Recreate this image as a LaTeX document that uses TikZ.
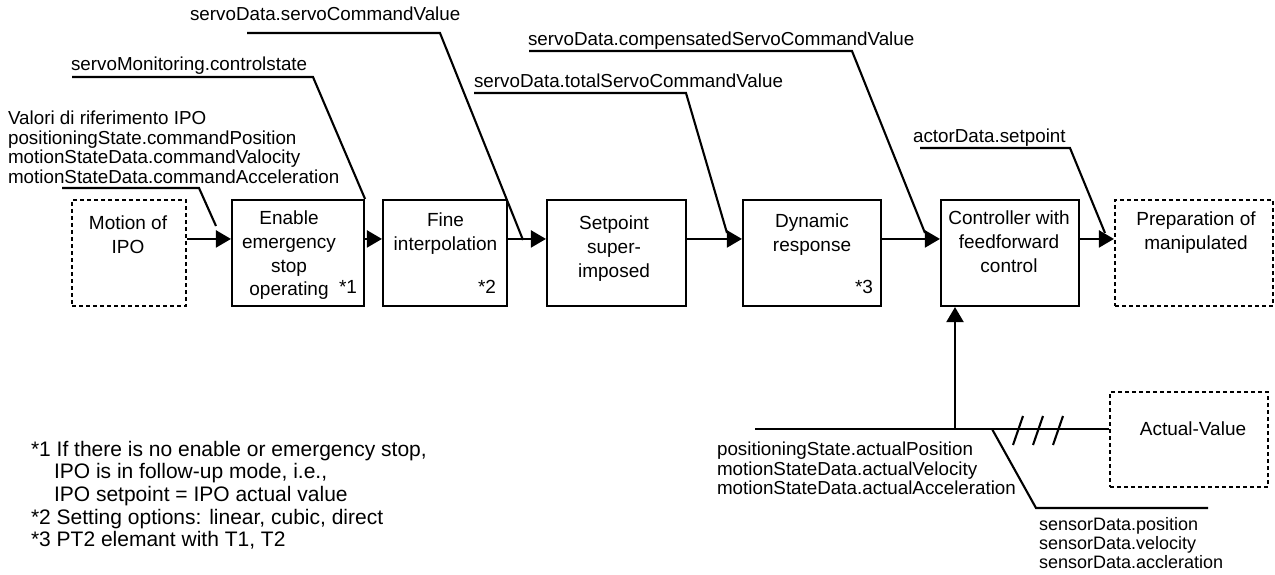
\documentclass[tikz,border=0pt]{standalone}
\usepackage{fontspec}
\setmainfont{Liberation Sans}
\usetikzlibrary{arrows.meta,calc}

\begin{document}
\begin{tikzpicture}[x=1pt,y=-1pt,
  line width=2.1pt,
  blk/.style={draw, rectangle, minimum height=106pt, inner sep=0pt},
  dblk/.style={blk, dash pattern=on 4pt off 3pt},
  btxt/.style={font=\fontsize{19}{23.7}\selectfont, align=center, anchor=north, inner sep=0pt},
  ltxt/.style={font=\fontsize{18.8}{19.6}\selectfont, align=left, anchor=north west, inner sep=0pt},
  note/.style={font=\fontsize{21}{22.6}\selectfont, align=left, anchor=north west, inner sep=0pt},
  fnm/.style={font=\fontsize{19}{23}\selectfont, anchor=base east, inner sep=0pt},
  arr/.style={-{Triangle[length=15pt,width=17pt]}}
]
\useasboundingbox (0,0) rectangle (1275,575);

% signal chain blocks
\node[dblk, minimum width=114pt] (ipo)  at (129,253)   {};
\node[blk,  minimum width=132pt] (ena)  at (298,253)   {};
\node[blk,  minimum width=124pt] (fine) at (445,253)   {};
\node[blk,  minimum width=139pt] (sup)  at (616.5,253) {};
\node[blk,  minimum width=138pt] (dyn)  at (812,253)   {};
\node[blk,  minimum width=138pt] (ctl)  at (1010,253)  {};
\node[dblk, minimum width=158pt] (prep) at (1194,253)  {};
\node[dblk, minimum width=158pt, minimum height=95pt] (act) at (1189,439.5) {};

% block texts
\node[btxt] (ipo-t)  at (128,215)   {Motion of\\IPO};
\node[btxt] (ena-t)  at (289,210)   {Enable\\emergency\\stop\\operating};
\node[btxt] (fine-t) at (445.5,212) {Fine\\interpolation};
\node[btxt] (sup-t)  at (614,215)   {Setpoint\\super-\\imposed};
\node[btxt] (dyn-t)  at (812,213)   {Dynamic\\response};
\node[btxt] (ctl-t)  at (1009,210)  {Controller with\\feedforward\\control};
\node[btxt] (prep-t) at (1196,211)  {Preparation of\\manipulated};
\node[btxt] (act-t)  at (1193,421)  {Actual-Value};

% footnote markers
\node[fnm] (m1) at ([xshift=-7pt,yshift=14pt]ena.south east)  {*1};
\node[fnm] (m2) at ([xshift=-11pt,yshift=14pt]fine.south east) {*2};
\node[fnm] (m3) at ([xshift=-8pt,yshift=14pt]dyn.south east)  {*3};

% main signal flow
\foreach \a/\b in {ipo/ena, ena/fine, fine/sup, sup/dyn, dyn/ctl, ctl/prep}
  \draw[arr] ([yshift=-40pt]\a.north east) -- ([yshift=-40pt]\b.north west);

% variable labels
\node[ltxt] (t1) at (7,110) {Valori di riferimento IPO\\positioningState.commandPosition\\motionStateData.commandValocity\\motionStateData.commandAcceleration};
\node[ltxt] (t2) at (70,56)  {servoMonitoring.controlstate};
\node[ltxt] (t3) at (189,6)  {servoData.servoCommandValue};
\node[ltxt] (t4) at (473,73) {servoData.totalServoCommandValue};
\node[ltxt] (t5) at (527,31) {servoData.compensatedServoCommandValue};
\node[ltxt] (t6) at (912,128) {actorData.setpoint};

% leader lines of the labels
\coordinate (a1) at (62,188);  \coordinate (b1) at (199,188); \coordinate (c1) at (216,226);
\coordinate (a2) at (72,77);   \coordinate (b2) at (313,77);
\coordinate (a3) at (247,33);  \coordinate (b3) at (440,33);  \coordinate (c3) at (523,240);
\coordinate (a4) at (474,93);  \coordinate (b4) at (686,93);  \coordinate (c4) at (727,233);
\coordinate (a5) at (529,51);  \coordinate (b5) at (852,51);  \coordinate (c5) at (925,233);
\coordinate (a6) at (920,148); \coordinate (b6) at (1070,148); \coordinate (c6) at (1105,233);
\draw (a1) -- (b1) -- (c1);
\draw (a2) -- (b2) -- (ena.north east);
\draw (a3) -- (b3) -- (c3);
\draw (a4) -- (b4) -- (c4);
\draw (a5) -- (b5) -- (c5);
\draw (a6) -- (b6) -- (c6);

% actual value feedback
\coordinate (bus) at (755,429);
\coordinate (tap) at (955,429);
\draw (bus) -- (bus -| act.west);
\draw[arr] (tap) -- (tap |- ctl.south);
\foreach \c in {1018,1038,1058}
  \draw (\c-5,445) -- (\c+5,416);
\coordinate (s1) at (992,429); \coordinate (s2) at (1036,508); \coordinate (s3) at (1208,508);
\draw (s1) -- (s2) -- (s3);

\node[ltxt] (t7) at (716,441) {positioningState.actualPosition\\motionStateData.actualVelocity\\motionStateData.actualAcceleration};
\node[ltxt, font=\fontsize{18}{19}\selectfont] (t8) at (1038,516) {sensorData.position\\sensorData.velocity\\sensorData.accleration};

% footnotes
\node[note] (fn) at (30,440) {*1 If there is no enable or emergency stop,\\\hspace*{23pt}IPO is in follow-up mode, i.e.,\\\hspace*{23pt}IPO setpoint = IPO actual value\\{}*2 Setting options: linear, cubic, direct\\{}*3 PT2 elemant with T1, T2};
\end{tikzpicture}
\end{document}
